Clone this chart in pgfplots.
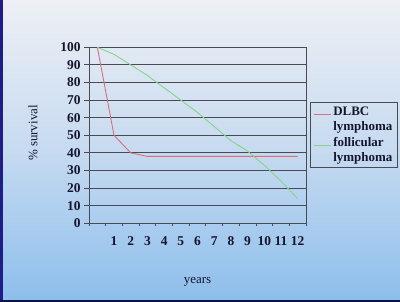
\documentclass[border=0pt]{standalone}
\usepackage{fontspec}
\setmainfont{Liberation Serif}
\usepackage{pgfplots}
\pgfplotsset{compat=1.18}
\definecolor{dlbc}{HTML}{D8707C}
\definecolor{foll}{HTML}{88D488}
\definecolor{gridc}{HTML}{4A4A55}
\definecolor{txt}{HTML}{15152E}
\definecolor{bgtop}{HTML}{EEF0F5}
\definecolor{bgmid}{HTML}{C6DAF0}
\definecolor{bgbot}{HTML}{8CBEEC}
\definecolor{edge}{HTML}{1E1E86}
\definecolor{edgeb}{HTML}{10104A}
\begin{document}
\begin{tikzpicture}[x=1bp,y=1bp]
\shade[top color=bgtop, bottom color=bgbot, middle color=bgmid] (0,0) rectangle (400,302);
\fill[edge] (0,0) rectangle (3,302);
\fill[edgeb] (0,0) rectangle (400,2);
\begin{axis}[
  at={(89bp,78.7bp)}, anchor=south west,
  scale only axis, width=217bp, height=176bp,
  xmin=-0.5, xmax=12.5, ymin=0, ymax=100,
  xtick={1,...,12},
  minor xtick={-0.5,0.5,...,12.5},
  ytick={0,10,...,100},
  xtick pos=bottom, ytick pos=left,
  ymajorgrids,
  major grid style={gridc, line width=0.8bp},
  axis line style={gridc, line width=0.8bp},
  tick style={gridc, line width=0.8bp},
  major x tick style={draw=none},
  tick align=outside,
  major tick length=5bp, minor tick length=3bp,
  /pgf/number format/assume math mode=true,
  ticklabel style={font=\fontsize{13.5}{15}\selectfont\bfseries, text=txt},
  xticklabel style={yshift=-5bp},
  xlabel={years}, ylabel={\% survival},
  label style={font=\fontsize{13}{15}\selectfont, text=txt},
  xlabel style={at={(axis description cs:0.5,-0.33)}, anchor=center},
  ylabel style={at={(axis description cs:-0.258,0.513)}, anchor=center},
  legend style={at={(axis description cs:1.018,0.691)}, anchor=north west,
    draw=gridc, fill=none, line width=0.8bp, text=txt,
    font=\fontsize{13}{14.5}\selectfont\bfseries,
    cells={align=left}, inner sep=3bp, row sep=2bp},
  legend cell align=left,
  legend image code/.code={\draw[#1, line width=1bp] (0bp,4.5bp) -- (17bp,4.5bp);},
]
\addplot[dlbc, line width=0.9bp] coordinates {
  (0,100) (1,50) (2,40) (3,38) (4,38) (5,38) (6,38) (7,38) (8,38) (9,38) (10,38) (11,38) (12,38)};
\addlegendentry{DLBC\\lymphoma}
\addplot[foll, line width=0.9bp] coordinates {
  (0,100) (1,96) (2,90) (3,84) (4,77) (5,70) (6,63) (7,55) (8,47) (9,41) (10,33) (11,24) (12,14)};
\addlegendentry{follicular\\lymphoma}
\end{axis}
\end{tikzpicture}
\end{document}
